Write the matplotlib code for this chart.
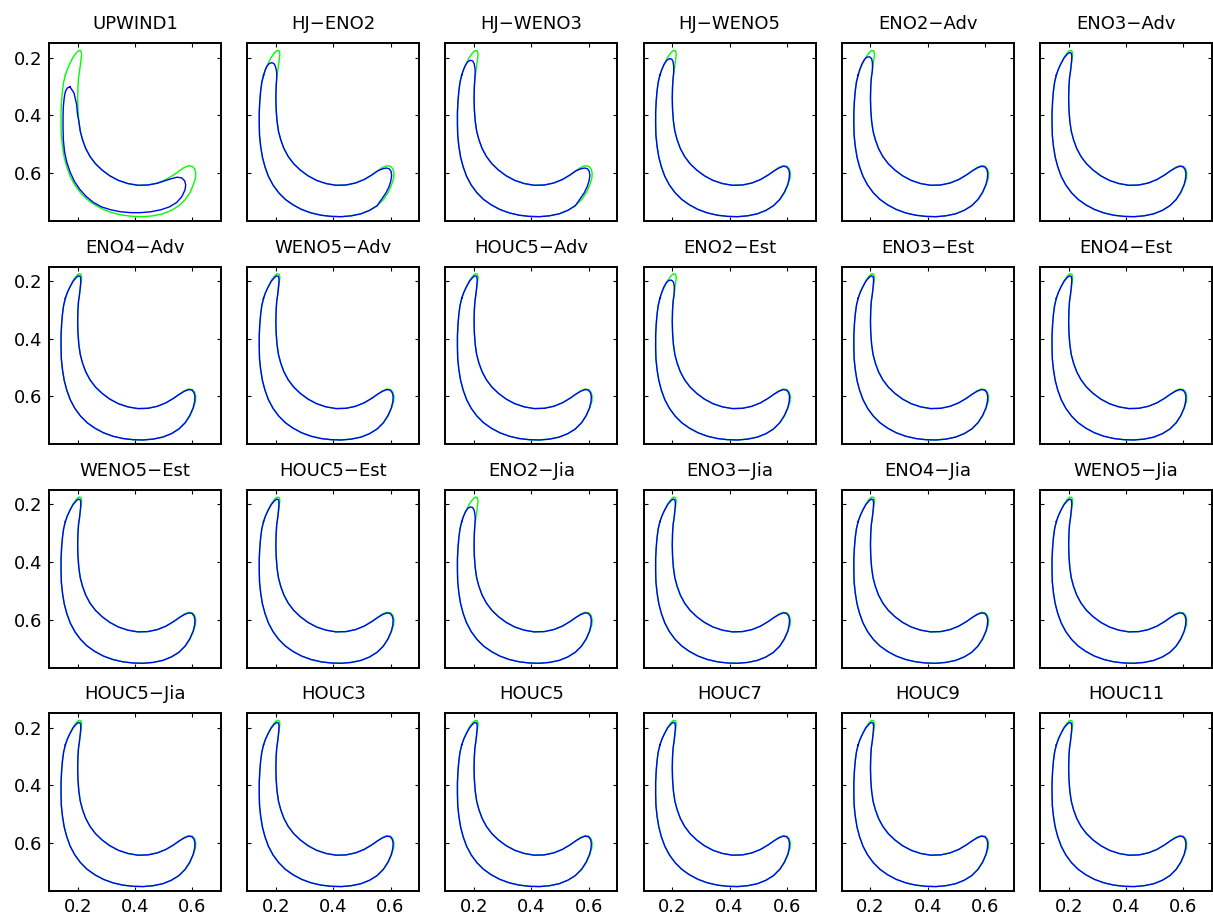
import matplotlib.pyplot as plt

plt.rcParams['font.family'] = ['DejaVu Sans']

titles = ["UPWIND1", "HJ-ENO2", "HJ-WENO3", "HJ-WENO5", "ENO2-Adv", "ENO3-Adv",
          "ENO4-Adv", "WENO5-Adv", "HOUC5-Adv", "ENO2-Est", "ENO3-Est", "ENO4-Est",
          "WENO5-Est", "HOUC5-Est", "ENO2-Jia", "ENO3-Jia", "ENO4-Jia", "WENO5-Jia",
          "HOUC5-Jia", "HOUC3", "HOUC5", "HOUC7", "HOUC9", "HOUC11"]

# contour pieces (x, y)
tip_exact = [(0.157, 0.260), (0.164, 0.240), (0.172, 0.222), (0.183, 0.200), (0.195, 0.183),
             (0.204, 0.175), (0.211, 0.176), (0.214, 0.187), (0.212, 0.205), (0.209, 0.228),
             (0.206, 0.250)]
arm_inner = [(0.203, 0.270), (0.201, 0.300), (0.200, 0.340), (0.201, 0.380), (0.204, 0.420),
             (0.209, 0.455), (0.217, 0.485), (0.228, 0.515), (0.243, 0.543), (0.262, 0.568),
             (0.285, 0.590), (0.312, 0.610), (0.342, 0.626), (0.375, 0.637), (0.410, 0.643),
             (0.445, 0.642), (0.478, 0.635), (0.508, 0.623), (0.535, 0.607), (0.555, 0.593)]
lobe_exact = [(0.572, 0.581), (0.588, 0.575), (0.600, 0.577), (0.608, 0.586), (0.612, 0.600),
              (0.611, 0.618), (0.604, 0.640), (0.592, 0.668), (0.575, 0.693)]
outer_side = [(0.553, 0.714), (0.527, 0.730), (0.497, 0.742), (0.463, 0.749), (0.428, 0.752),
              (0.393, 0.751), (0.358, 0.747), (0.323, 0.739), (0.290, 0.727), (0.260, 0.711),
              (0.233, 0.692), (0.210, 0.669), (0.190, 0.642), (0.174, 0.612), (0.162, 0.579),
              (0.153, 0.545), (0.147, 0.508), (0.143, 0.470), (0.142, 0.430), (0.142, 0.390),
              (0.144, 0.350), (0.147, 0.315), (0.151, 0.285)]

# blue tips / lobes of the schemes
tip_fine = [(0.157, 0.260), (0.164, 0.240), (0.173, 0.221), (0.184, 0.201), (0.195, 0.188),
            (0.203, 0.182), (0.209, 0.184), (0.211, 0.195), (0.210, 0.212), (0.208, 0.232),
            (0.206, 0.250)]
tip_203 = [(0.157, 0.260), (0.164, 0.240), (0.172, 0.222), (0.181, 0.209), (0.190, 0.203),
           (0.198, 0.205), (0.203, 0.214), (0.205, 0.230), (0.205, 0.250)]
tip_197 = [(0.157, 0.260), (0.163, 0.240), (0.170, 0.222), (0.179, 0.206), (0.188, 0.198),
           (0.197, 0.197), (0.204, 0.203), (0.207, 0.218), (0.207, 0.235), (0.206, 0.250)]
tip_210 = [(0.157, 0.260), (0.163, 0.242), (0.170, 0.226), (0.178, 0.214), (0.187, 0.209),
           (0.195, 0.211), (0.200, 0.220), (0.203, 0.235), (0.204, 0.250)]
tip_218 = [(0.157, 0.262), (0.162, 0.245), (0.168, 0.231), (0.176, 0.221), (0.185, 0.217),
           (0.193, 0.220), (0.198, 0.229), (0.201, 0.240), (0.203, 0.255)]
lobe_fine = [(0.572, 0.583), (0.587, 0.577), (0.599, 0.579), (0.606, 0.588), (0.609, 0.601),
             (0.608, 0.618), (0.603, 0.640), (0.591, 0.667), (0.575, 0.692)]
lobe_shrunk = [(0.572, 0.586), (0.586, 0.583), (0.596, 0.586), (0.602, 0.595), (0.604, 0.610),
               (0.601, 0.628), (0.595, 0.647), (0.585, 0.668), (0.570, 0.690)]

upwind1_blue = [(0.173, 0.301), (0.187, 0.322), (0.196, 0.360), (0.200, 0.400), (0.204, 0.420),
                (0.209, 0.455), (0.217, 0.485), (0.228, 0.515), (0.243, 0.543), (0.262, 0.568),
                (0.285, 0.590), (0.312, 0.610), (0.342, 0.626), (0.375, 0.637), (0.410, 0.643),
                (0.445, 0.642), (0.478, 0.636), (0.505, 0.627), (0.527, 0.620), (0.547, 0.615),
                (0.562, 0.617), (0.573, 0.627), (0.577, 0.642), (0.574, 0.660), (0.563, 0.683),
                (0.545, 0.703), (0.520, 0.718), (0.490, 0.728), (0.455, 0.735), (0.420, 0.738),
                (0.385, 0.738), (0.350, 0.735), (0.315, 0.728), (0.283, 0.718), (0.254, 0.702),
                (0.230, 0.682), (0.208, 0.658), (0.189, 0.630), (0.174, 0.598), (0.162, 0.563),
                (0.154, 0.525), (0.150, 0.485), (0.149, 0.445), (0.149, 0.405), (0.150, 0.370),
                (0.153, 0.340), (0.157, 0.318), (0.164, 0.305)]

tip_kind = ["upwind", "218", "210", "203", "197", "fine",
            "fine", "fine", "fine", "197", "fine", "fine",
            "fine", "fine", "210", "fine", "fine", "fine",
            "fine", "fine", "fine", "fine", "fine", "fine"]
lobe_kind = ["upwind", "shrunk", "shrunk", "fine", "fine", "fine"] + ["fine"] * 18

tips = {"fine": tip_fine, "203": tip_203, "197": tip_197, "210": tip_210, "218": tip_218}
lobes = {"fine": lobe_fine, "shrunk": lobe_shrunk}


def closed(pts):
    pts = pts + pts[:1]
    return [p[0] for p in pts], [p[1] for p in pts]


fig = plt.figure(figsize=(12.13, 9.23), dpi=100)
W, H = 1213.0, 923.0

for i, name in enumerate(titles):
    r, c = i // 6, i % 6
    left = 49 + c * 198.2
    top = 43.3 + r * 223.3
    ax = fig.add_axes([left / W, 1 - (top + 177.7) / H, 172 / W, 177.7 / H])

    gx, gy = closed(tip_exact + arm_inner + lobe_exact + outer_side)
    if tip_kind[i] == "upwind":
        bx, by = closed(upwind1_blue)
    else:
        bx, by = closed(tips[tip_kind[i]] + arm_inner + lobes[lobe_kind[i]] + outer_side)
    ax.plot(gx, gy, color=(0, 1, 0), lw=1.0)
    ax.plot(bx, by, color=(0, 0, 1), lw=1.0)

    ax.set_xlim(0.1, 0.7)
    ax.set_ylim(0.767, 0.15)
    ax.set_xticks([0.2, 0.4, 0.6])
    ax.set_yticks([0.2, 0.4, 0.6])
    ax.tick_params(direction="in", length=3, width=0.8, top=True, right=True,
                   labelsize=13, pad=5,
                   labelbottom=(r == 3), labelleft=(c == 0))
    for s in ax.spines.values():
        s.set_linewidth(1.4)
    ax.set_title(name.replace("-", "\u2212"), fontsize=13, pad=10)

plt.savefig("out.png", dpi=100)
